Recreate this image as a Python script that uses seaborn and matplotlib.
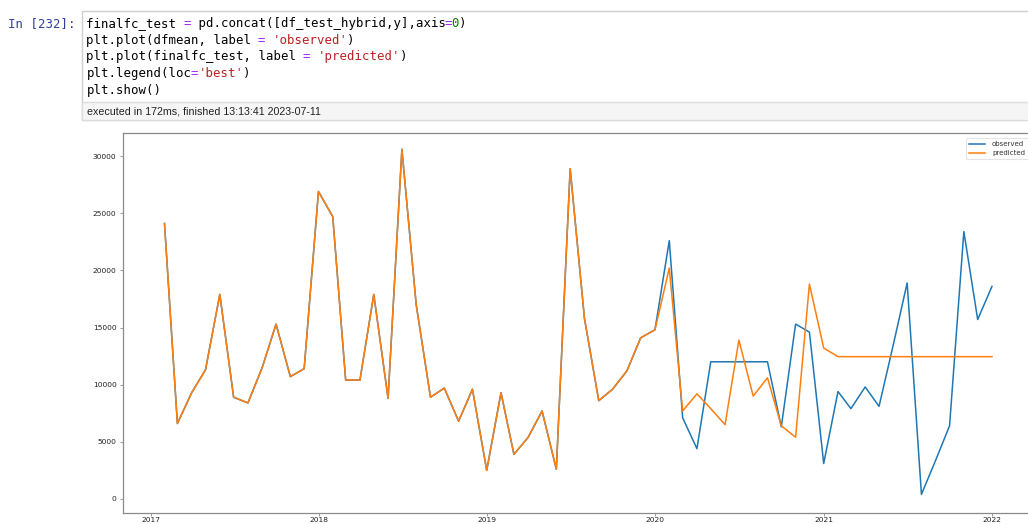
import pandas as pd
import matplotlib
matplotlib.use('Agg')
import matplotlib.pyplot as plt
import matplotlib.dates as mdates
from matplotlib.patches import Rectangle
import seaborn as sns

# --- values (monthly, month-end dates) ---
dates = pd.date_range('2017-01-31', periods=60, freq='ME')

# up to Dec 2019 both series are identical
common = [24100, 6600, 9300, 11300, 17900, 8900, 8400, 11500, 15300, 10700, 11400, 26900,
          24700, 10400, 10400, 17900, 8800, 30600, 17000, 8900, 9700, 6800, 9600, 2500,
          9300, 3900, 5400, 7700, 2600, 28900, 15800, 8600, 9600, 11200, 14100, 14800]
observed_tail = [22600, 7100, 4400, 12000, 12000, 12000, 12000, 12000, 6300, 15300, 14600, 3100,
                 9400, 7900, 9800, 8100, 13500, 18900, 400, 3400, 6400, 23400, 15700, 18600]
predicted_tail = [20200, 7700, 9200, 7900, 6500, 13900, 9000, 10600, 6400, 5400, 18800, 13200,
                  12450, 12450, 12450, 12450, 12450, 12450, 12450, 12450, 12450, 12450, 12450, 12450]
observed = common + observed_tail
predicted = common + predicted_tail

prompt_label = 'In [232]:'
exec_note = 'executed in 172ms, finished 13:13:41 2023-07-11'
code_lines = [
    [('finalfc_test ', 'k'), ('=', 'op'), (' pd.concat([df_test_hybrid,y],axis', 'k'), ('=', 'op'), ('0', 'num'), (')', 'k')],
    [('plt.plot(dfmean, label ', 'k'), ('=', 'op'), (' ', 'k'), ("'observed'", 'str'), (')', 'k')],
    [('plt.plot(finalfc_test, label ', 'k'), ('=', 'op'), (' ', 'k'), ("'predicted'", 'str'), (')', 'k')],
    [('plt.legend(loc', 'k'), ('=', 'op'), ("'best'", 'str'), (')', 'k')],
    [('plt.show()', 'k')],
]
token_colors = {'k': '#000000', 'op': '#AA22FF', 'str': '#BA2121', 'num': '#008000'}

df = pd.DataFrame({'date': dates, 'observed': observed, 'predicted': predicted})

W, H = 1028, 524
fig = plt.figure(figsize=(W / 100, H / 100), dpi=100)


def fx(px):
    return px / W


def fy(py):
    return 1 - py / H


# notebook cell (input box + "executed" strip)
fig.add_artist(Rectangle((fx(82), fy(120)), fx(1040) - fx(82), (120 - 11) / H,
                         transform=fig.transFigure, facecolor='white',
                         edgecolor='#cfcfcf', lw=1.0))
fig.add_artist(Rectangle((fx(82), fy(120)), fx(1040) - fx(82), (120 - 102) / H,
                         transform=fig.transFigure, facecolor='#f5f5f5',
                         edgecolor='#dcdcdc', lw=1.0))

mono = 'DejaVu Sans Mono'
cw = 7.45  # px per character
mono_size = cw / 0.602 * 72 / 100
fig.text(fx(76), fy(23.5), prompt_label, family=mono, size=mono_size,
         color='#303F9F', ha='right', va='center')
line_y = [23.5, 40.2, 56.8, 73.5, 90.1]
for ly, tokens in zip(line_y, code_lines):
    col = 0
    for txt, kind in tokens:
        fig.text(fx(86.5 + col * cw), fy(ly), txt, family=mono, size=mono_size,
                 color=token_colors[kind], ha='left', va='center')
        col += len(txt)
fig.text(fx(87), fy(111.5), exec_note, family='Liberation Sans', size=7.7,
         color='#222222', ha='left', va='center')

# --- the plot itself ---
ax = fig.add_axes([fx(123), fy(513), (1033 - 123) / W, (513 - 133) / H])
sns.lineplot(data=df, x='date', y='observed', ax=ax, color='#1f77b4', lw=1.1, label='observed')
sns.lineplot(data=df, x='date', y='predicted', ax=ax, color='#ff7f0e', lw=1.1, label='predicted')

ax.set_xlim(pd.Timestamp('2016-11-02'), pd.Timestamp('2022-03-30'))
ax.set_ylim(-1230, 32020)
ax.xaxis.set_major_locator(mdates.YearLocator())
ax.xaxis.set_major_formatter(mdates.DateFormatter('%Y'))
ax.set_yticks([0, 5000, 10000, 15000, 20000, 25000, 30000])
ax.set_xlabel('')
ax.set_ylabel('')
for sp in ax.spines.values():
    sp.set_color('#8a8a8a')
    sp.set_linewidth(0.9)
ax.tick_params(axis='both', labelsize=5.4, length=2.3, width=0.6, color='#8a8a8a',
               labelcolor='#222222')
ax.tick_params(axis='x', pad=0.8)
ax.tick_params(axis='y', pad=2.4)

leg = ax.legend(loc='upper right', fontsize=5, borderaxespad=0.75, handlelength=2.3,
                handletextpad=1.0, frameon=True, fancybox=True)
leg.get_frame().set_edgecolor('#dddddd')
leg.get_frame().set_linewidth(0.8)
for t in leg.get_texts():
    t.set_color('#333333')

fig.savefig('out.png', dpi=100)
